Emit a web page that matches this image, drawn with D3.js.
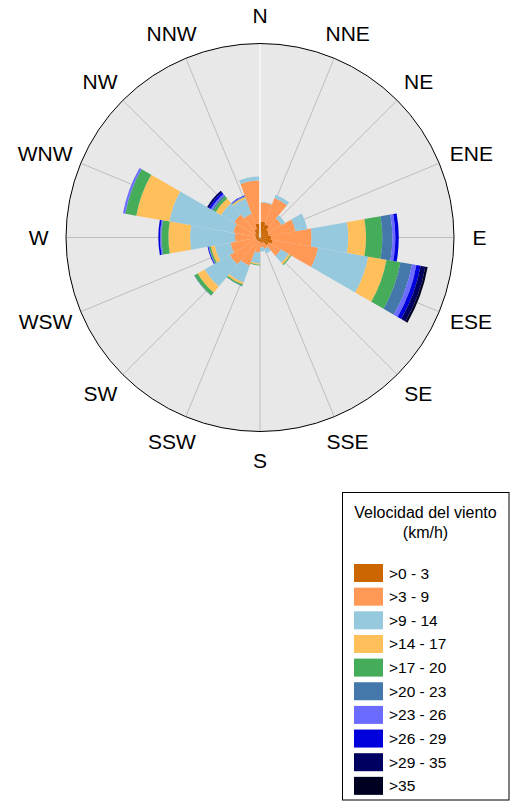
<!DOCTYPE html>
<html>
<head>
<meta charset="utf-8">
<script src="https://cdn.jsdelivr.net/npm/d3@7"></script>
<style>
  body { margin: 0; background: #fff; }
  text { font-family: "Liberation Sans", Arial, sans-serif; fill: #000; }
</style>
</head>
<body>
<svg id="rose" width="517" height="807"></svg>
<script>
//##### Wind rose #####

// sector centres (degrees from north), 20 deg wide
var directions = [10, 30, 50, 70, 90, 110, 130, 150, 170, 190, 210, 230, 250, 270, 290, 310, 330, 350];
var compass = ["N", "NNE", "NE", "ENE", "E", "ESE", "SE", "SSE", "S", "SSW", "SW", "WSW", "W", "WNW", "NW", "NNW"];
var classes = [">0 - 3", ">3 - 9", ">9 - 14", ">14 - 17", ">17 - 20", ">20 - 23", ">23 - 26", ">26 - 29", ">29 - 35", ">35"];
var colors = ["#cc6600", "#ff9955", "#96c8de", "#ffbf5a", "#45ad5a", "#4477aa", "#6b6bff", "#0000dd", "#000060", "#000020"];

// frequency (%) of each speed class, one value per sector
var s0_3   = [1.40, 1.23, 0.88, 0.79, 0.96, 1.14, 0.88, 0.53, 0.44, 0.35, 0.35, 0.35, 0.35, 0.35, 0.44, 0.53, 0.79, 1.23];
var s3_9   = [1.67, 2.45, 1.31, 2.37, 3.57, 4.03, 1.23, 0.53, 0.44, 0.96, 2.28, 2.72, 2.28, 1.84, 1.93, 2.10, 1.40, 3.77];
var s9_14  = [0.06, 0.31, 0.35, 1.05, 3.21, 4.47, 0.79, 0.44, 0.35, 0.96, 1.58, 2.54, 1.40, 3.94, 5.70, 1.31, 1.45, 0.35];
var s14_17 = [0, 0, 0, 0, 1.55, 1.62, 0.18, 0, 0, 0.11, 0.18, 0.70, 0.35, 1.90, 2.94, 0.53, 0.13, 0];
var s17_20 = [0, 0, 0, 0, 1.43, 1.24, 0.09, 0, 0, 0.07, 0.13, 0.31, 0.13, 0.60, 0.96, 0.26, 0.04, 0];
var s20_23 = [0, 0, 0, 0, 0.88, 1.03, 0, 0, 0, 0, 0.04, 0.04, 0.04, 0.04, 0.04, 0.13, 0.04, 0];
var s23_26 = [0, 0, 0, 0, 0.26, 0.39, 0, 0, 0, 0, 0, 0, 0.04, 0.09, 0.18, 0.13, 0.04, 0];
var s26_29 = [0, 0, 0, 0, 0.30, 0.37, 0, 0, 0, 0, 0, 0, 0.07, 0.15, 0, 0.18, 0.04, 0];
var s29_35 = [0, 0, 0, 0, 0, 0.42, 0, 0, 0, 0, 0, 0, 0, 0, 0, 0.18, 0, 0];
var s35    = [0, 0, 0, 0, 0, 0.21, 0, 0, 0, 0, 0, 0, 0, 0, 0, 0, 0, 0];
var series = [s0_3, s3_9, s9_14, s14_17, s17_20, s20_23, s23_26, s26_29, s29_35, s35];

var cx = 260, cy = 237.5, R = 194, sectorWidth = 20;

var svg = d3.select("#rose");

var r = d3.scaleLinear().domain([0, 17]).range([0, R]);
var ang = d3.scaleLinear().domain([0, 360]).range([0, 2 * Math.PI]);

// remap data into rows for d3.stack
var rows = directions.map(function(d, i) {
  var o = { dir: d };
  classes.forEach(function(c, j) { o[c] = series[j][i]; });
  return o;
});
var stacked = d3.stack().keys(classes)(rows);

var g = svg.append("g").attr("transform", "translate(" + cx + "," + cy + ")");

g.append("circle").attr("r", R).attr("fill", "#e8e8e8");

// spokes
g.selectAll("line.spoke")
  .data(compass)
  .enter()
  .append("line")
  .attr("class", "spoke")
  .attr("x1", 0).attr("y1", 0)
  .attr("x2", function(d, i) { return R * Math.sin(ang(i * 22.5)); })
  .attr("y2", function(d, i) { return -R * Math.cos(ang(i * 22.5)); })
  .attr("stroke", "#b2b2b2")
  .attr("stroke-width", 0.8);

var arc = d3.arc();

g.selectAll("g.layer")
  .data(stacked)
  .enter()
  .append("g")
  .attr("class", "layer")
  .attr("fill", function(d, i) { return colors[i]; })
  .selectAll("path")
  .data(function(d) { return d.filter(function(s) { return s[1] - s[0] > 0; }); })
  .enter()
  .append("path")
  .attr("d", function(s) {
    return arc({
      innerRadius: r(s[0]),
      outerRadius: r(s[1]),
      startAngle: ang(s.data.dir - sectorWidth / 2),
      endAngle: ang(s.data.dir + sectorWidth / 2)
    });
  });

// north line on top
g.append("line")
  .attr("x1", 0).attr("y1", 0)
  .attr("x2", 0).attr("y2", -R)
  .attr("stroke", "#fff")
  .attr("stroke-width", 1.5);

g.append("circle")
  .attr("r", R)
  .attr("fill", "none")
  .attr("stroke", "#000")
  .attr("stroke-width", 1);

// direction labels, pushed out by their width on the sides
g.selectAll("text.dir")
  .data(compass)
  .enter()
  .append("text")
  .attr("class", "dir")
  .attr("text-anchor", "middle")
  .style("font-size", "21px")
  .text(function(d) { return d; })
  .each(function(d, i) {
    var a = ang(i * 22.5);
    var w = this.getComputedTextLength();
    var c = Math.cos(a);
    var ry = 220 + 2.5 * Math.pow(Math.abs(c), 8);
    d3.select(this)
      .attr("x", (215 + 0.32 * w) * Math.sin(a))
      .attr("y", -ry * c + 7.5);
  });

// legend
var legend = svg.append("g").attr("transform", "translate(342.5,492.5)");

legend.append("rect")
  .attr("width", 166.5)
  .attr("height", 307.5)
  .attr("fill", "#fff")
  .attr("stroke", "#000")
  .attr("stroke-width", 1);

legend.append("text")
  .attr("x", 83)
  .attr("y", 25.5)
  .attr("text-anchor", "middle")
  .style("font-size", "16px")
  .text("Velocidad del viento");

legend.append("text")
  .attr("x", 83)
  .attr("y", 45.5)
  .attr("text-anchor", "middle")
  .style("font-size", "16px")
  .text("(km/h)");

var item = legend.selectAll("g.item")
  .data(classes)
  .enter()
  .append("g")
  .attr("class", "item")
  .attr("transform", function(d, i) {
    return "translate(11.5," + (71.5 + i * 23.65) + ")";
  });

item.append("rect")
  .attr("width", 29)
  .attr("height", 18)
  .attr("fill", function(d, i) { return colors[i]; });

item.append("text")
  .attr("x", 35)
  .attr("y", 14.5)
  .style("font-size", "15.5px")
  .text(function(d) { return d; });
</script>
</body>
</html>
